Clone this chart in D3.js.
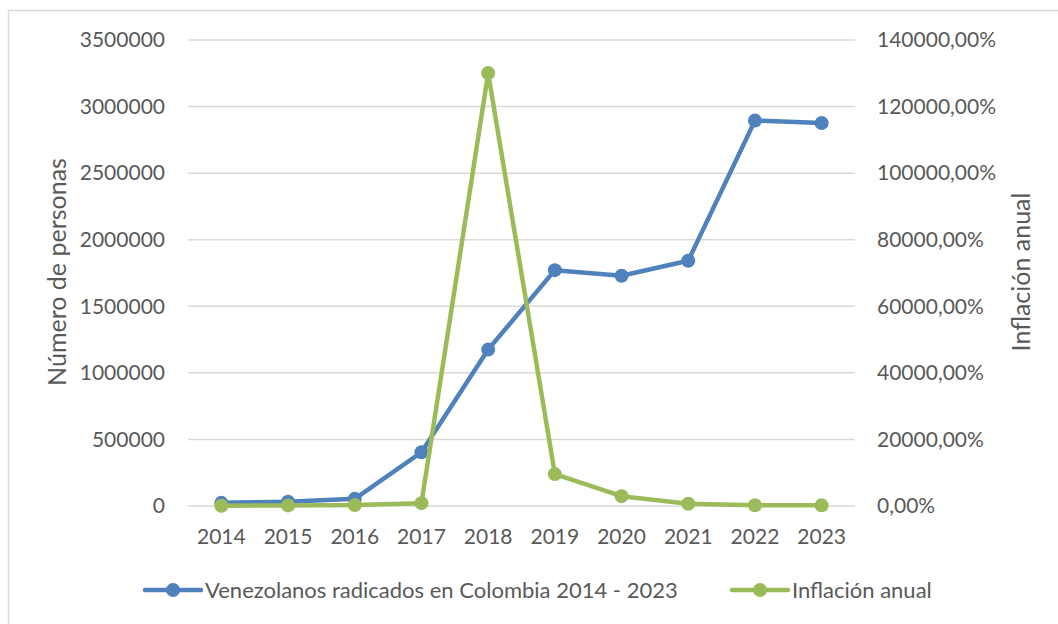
<!DOCTYPE html>
<html><head><meta charset="utf-8">
<script src="https://cdn.jsdelivr.net/npm/d3@7"></script>
<style>
html,body{margin:0;padding:0;background:#fff;}
svg text{font-family:Lato,"Open Sans",sans-serif;fill:#595959;}
</style></head>
<body>
<svg id="c" width="1058" height="624"></svg>
<script>
const years = ["2014","2015","2016","2017","2018","2019","2020","2021","2022","2023"];
const venezolanos = [23573, 31471, 53747, 403702, 1174743, 1771237, 1729537, 1842390, 2894593, 2875743];
const inflacion = [68.5, 180.9, 274.4, 862.6, 130060, 9585.5, 2959.8, 686.4, 234.1, 189.8];
const leftTicks = [0, 500000, 1000000, 1500000, 2000000, 2500000, 3000000, 3500000];
const rightTicks = [0, 20000, 40000, 60000, 80000, 100000, 120000, 140000];
const seriesNames = ["Venezolanos radicados en Colombia 2014 - 2023", "Inflación anual"];
const colors = ["#4F81BD", "#9BBB59"];

const svg = d3.select("#c");
svg.append("rect").attr("x",8.5).attr("y",10.5).attr("width",1060).attr("height",630)
  .attr("fill","#fff").attr("stroke","#D9D9D9").attr("stroke-width",1.5);

const L = 188, R = 855, T = 40, B = 506;
const x = d3.scaleBand().domain(years).range([L, R]).padding(0);
const xc = d => x(d) + x.bandwidth()/2;
const yL = d3.scaleLinear().domain([0, 3500000]).range([B, T]);
const yR = d3.scaleLinear().domain([0, 140000]).range([B, T]);

// gridlines
svg.append("g").selectAll("line").data(leftTicks).join("line")
  .attr("x1", L).attr("x2", R).attr("y1", d => yL(d)).attr("y2", d => yL(d))
  .attr("stroke", "#D9D9D9").attr("stroke-width", 1.5);

const fs = 21;
// left axis
const gl = svg.append("g").attr("transform", `translate(${L},0)`)
  .call(d3.axisLeft(yL).tickValues(leftTicks).tickFormat(d => String(d)).tickSize(0).tickPadding(23));
gl.select(".domain").remove();
gl.selectAll("text").style("font-size", fs+"px").style("font-family","Lato").attr("fill","#595959");

// right axis
const fmtPct = d => d3.format(".2f")(d).replace(".", ",") + "%";
const gr = svg.append("g").attr("transform", `translate(${R},0)`)
  .call(d3.axisRight(yR).tickValues(rightTicks).tickFormat(fmtPct).tickSize(0).tickPadding(22));
gr.select(".domain").remove();
gr.selectAll("text").style("font-size", fs+"px").style("font-family","Lato").attr("fill","#595959");

// x axis
const gx = svg.append("g").attr("transform", `translate(0,${B})`)
  .call(d3.axisBottom(x).tickSize(0).tickPadding(23));
gx.select(".domain").remove();
gx.selectAll("text").style("font-size", fs+"px").style("font-family","Lato").attr("fill","#595959");

// axis titles
svg.append("text").attr("transform", `translate(66,272) rotate(-90)`)
  .attr("text-anchor","middle").style("font-size","25px").text("Número de personas");
svg.append("text").attr("transform", `translate(1030,272) rotate(-90)`)
  .attr("text-anchor","middle").style("font-size","25px").text("Inflación anual");

// lines
const lineL = d3.line().x((d,i) => xc(years[i])).y(d => yL(d));
const lineR = d3.line().x((d,i) => xc(years[i])).y(d => yR(d));
svg.append("path").datum(venezolanos).attr("d", lineL).attr("fill","none")
  .attr("stroke", colors[0]).attr("stroke-width", 4.5).attr("stroke-linejoin","round");
svg.append("g").selectAll("circle").data(venezolanos).join("circle")
  .attr("cx", (d,i) => xc(years[i])).attr("cy", d => yL(d)).attr("r", 7).attr("fill", colors[0]);
svg.append("path").datum(inflacion).attr("d", lineR).attr("fill","none")
  .attr("stroke", colors[1]).attr("stroke-width", 4.5).attr("stroke-linejoin","round");
svg.append("g").selectAll("circle").data(inflacion).join("circle")
  .attr("cx", (d,i) => xc(years[i])).attr("cy", d => yR(d)).attr("r", 7).attr("fill", colors[1]);

// legend
const legY = 590;
const legX = [145, 732];
seriesNames.forEach((name, i) => {
  const g = svg.append("g");
  g.append("line").attr("x1", legX[i]).attr("x2", legX[i] + 56).attr("y1", legY).attr("y2", legY)
    .attr("stroke", colors[i]).attr("stroke-width", 4.5).attr("stroke-linecap","round");
  g.append("circle").attr("cx", legX[i] + 28).attr("cy", legY).attr("r", 7).attr("fill", colors[i]);
  g.append("text").attr("x", legX[i] + 60).attr("y", legY).attr("dy","0.35em")
    .style("font-size", "22px").text(name);
});
</script>
</body></html>
